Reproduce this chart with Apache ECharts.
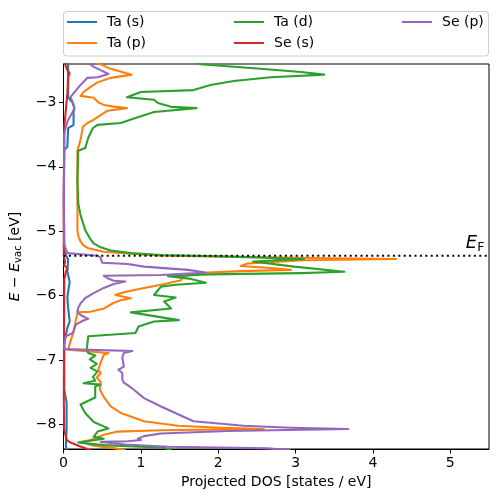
<!DOCTYPE html>
<html><head><meta charset="utf-8">
<script src="https://cdn.jsdelivr.net/npm/echarts@6/dist/echarts.min.js"></script>
<style>html,body{margin:0;padding:0;background:#fff}#c{width:498px;height:502px}</style>
</head><body><div id="c"></div>
<script>
const seriesNames = ['Ta (s)', 'Ta (p)', 'Ta (d)', 'Se (s)', 'Se (p)'];
const colors = ['#1f77b4', '#ff7f0e', '#2ca02c', '#d62728', '#9467bd'];
const xTicks = [0, 1, 2, 3, 4, 5];
const yTicks = [-8, -7, -6, -5, -4, -3];
const X_MIN = 0, X_MAX = 5.5;
const E_MIN = -8.38, E_MAX = -2.405;
const E_FERMI = -5.38;

// [DOS, E] pairs
const taS = [[0.06,-2.38],[0.06,-2.55],[0.06,-2.92],[0.12,-3.01],[0.14,-3.09],[0.13,-3.15],[0.13,-3.35],[0.06,-3.40],[0.05,-3.69],[0.01,-3.74],[0.004,-4.51],[0.01,-5.29],[0.03,-5.37],[0.06,-5.44],[0.05,-5.63],[0.08,-5.79],[0.06,-5.94],[0.05,-6.03],[0.06,-6.19],[0.08,-6.40],[0.05,-6.50],[0.03,-6.61],[0.01,-6.71],[0.01,-7.46],[0.04,-7.66],[0.04,-8.08],[0.03,-8.32],[0.04,-8.40]];

const taP = [[0.42,-2.38],[0.44,-2.41],[0.61,-2.48],[0.88,-2.57],[0.61,-2.62],[0.44,-2.69],[0.35,-2.76],[0.26,-2.84],[0.22,-2.90],[0.39,-2.93],[0.45,-3.00],[0.52,-3.04],[0.67,-3.07],[0.82,-3.09],[0.57,-3.13],[0.48,-3.20],[0.39,-3.27],[0.31,-3.32],[0.25,-3.38],[0.22,-3.58],[0.18,-3.75],[0.18,-4.51],[0.18,-4.98],[0.19,-5.07],[0.22,-5.16],[0.26,-5.22],[0.31,-5.26],[0.52,-5.32],[0.87,-5.35],[1.26,-5.38],[2.42,-5.40],[3.46,-5.42],[4.30,-5.43],[3.11,-5.45],[2.38,-5.50],[2.29,-5.54],[2.68,-5.57],[2.94,-5.60],[2.29,-5.62],[1.87,-5.64],[1.55,-5.70],[1.52,-5.76],[1.26,-5.83],[0.96,-5.90],[0.74,-5.96],[0.67,-5.99],[0.87,-6.04],[0.74,-6.07],[0.65,-6.11],[0.52,-6.20],[0.35,-6.25],[0.18,-6.26],[0.16,-6.38],[0.13,-6.56],[0.09,-6.71],[0.06,-6.84],[0.58,-6.89],[0.52,-6.92],[0.48,-7.04],[0.45,-7.15],[0.48,-7.20],[0.43,-7.27],[0.48,-7.34],[0.47,-7.46],[0.52,-7.57],[0.61,-7.72],[0.74,-7.82],[1.04,-7.95],[1.48,-8.02],[2.03,-8.05],[2.59,-8.07],[1.26,-8.09],[0.70,-8.11],[0.52,-8.16],[0.35,-8.24],[0.22,-8.27],[0.39,-8.33],[0.67,-8.37],[0.80,-8.40]];

const taD = [[1.72,-2.38],[1.77,-2.41],[2.55,-2.48],[3.07,-2.53],[3.37,-2.57],[2.68,-2.61],[2.20,-2.67],[1.90,-2.73],[1.68,-2.81],[1.00,-2.84],[0.82,-2.92],[1.17,-2.96],[1.22,-3.01],[1.39,-3.07],[1.72,-3.09],[1.17,-3.15],[0.96,-3.23],[0.74,-3.32],[0.44,-3.35],[0.38,-3.40],[0.32,-3.55],[0.28,-3.71],[0.19,-3.75],[0.18,-4.20],[0.19,-4.56],[0.22,-4.75],[0.28,-4.98],[0.34,-5.11],[0.39,-5.19],[0.48,-5.25],[0.61,-5.30],[0.87,-5.34],[1.26,-5.37],[2.03,-5.39],[3.11,-5.43],[2.45,-5.47],[2.98,-5.55],[3.63,-5.63],[3.07,-5.65],[1.87,-5.67],[1.35,-5.70],[1.65,-5.74],[1.84,-5.80],[1.45,-5.83],[1.26,-5.86],[1.17,-5.99],[1.45,-6.03],[1.30,-6.09],[1.39,-6.20],[0.87,-6.26],[1.13,-6.31],[1.49,-6.38],[1.17,-6.40],[0.97,-6.48],[0.93,-6.58],[0.32,-6.63],[0.30,-6.84],[0.32,-6.89],[0.41,-6.93],[0.34,-6.99],[0.43,-7.06],[0.35,-7.12],[0.44,-7.18],[0.38,-7.26],[0.41,-7.32],[0.26,-7.36],[0.48,-7.38],[0.41,-7.41],[0.41,-7.58],[0.22,-7.69],[0.28,-7.82],[0.39,-7.96],[0.58,-8.06],[0.44,-8.11],[0.39,-8.19],[0.52,-8.22],[0.19,-8.28],[0.52,-8.32],[1.30,-8.36],[1.39,-8.40]];

const seS = [[0.01,-2.38],[0.05,-2.50],[0.08,-2.55],[0.06,-2.61],[0.05,-2.86],[0.03,-3.12],[0.01,-3.38],[0.003,-4.51],[0.004,-5.37],[0.02,-5.48],[0.01,-5.53],[0.05,-5.58],[0.03,-5.63],[0.01,-5.75],[0.004,-7.62],[0.01,-8.08],[0.04,-8.24],[0.09,-8.28],[0.22,-8.34],[0.35,-8.40]];

const seP = [[0.32,-2.38],[0.34,-2.41],[0.39,-2.45],[0.48,-2.50],[0.58,-2.56],[0.44,-2.61],[0.31,-2.62],[0.22,-2.73],[0.13,-2.86],[0.09,-2.92],[0.12,-3.00],[0.14,-3.09],[0.12,-3.15],[0.06,-3.27],[0.03,-3.38],[0.01,-3.48],[0.004,-4.51],[0.01,-5.21],[0.05,-5.34],[0.44,-5.38],[0.48,-5.41],[0.50,-5.49],[0.83,-5.51],[1.04,-5.55],[1.61,-5.60],[1.84,-5.64],[1.26,-5.68],[0.52,-5.69],[0.57,-5.73],[0.65,-5.77],[0.80,-5.78],[0.65,-5.82],[0.52,-5.88],[0.39,-5.96],[0.28,-6.04],[0.22,-6.12],[0.19,-6.19],[0.18,-6.25],[0.22,-6.30],[0.32,-6.36],[0.25,-6.39],[0.16,-6.45],[0.12,-6.58],[0.03,-6.63],[0.01,-6.76],[0.01,-6.83],[0.89,-6.86],[0.78,-6.89],[0.76,-6.96],[0.78,-7.10],[0.71,-7.15],[0.76,-7.20],[0.76,-7.30],[0.78,-7.35],[0.83,-7.39],[0.91,-7.46],[1.04,-7.59],[1.26,-7.72],[1.68,-7.95],[2.33,-8.02],[2.94,-8.05],[3.68,-8.07],[2.12,-8.10],[1.26,-8.14],[1.04,-8.18],[0.96,-8.22],[1.00,-8.24],[0.83,-8.26],[0.48,-8.27],[0.80,-8.31],[1.35,-8.345],[2.64,-8.37],[2.94,-8.40]];

const curves = [taS, taP, taD, seS, seP];
const FONT = 'DejaVu Sans';
const LW = 2.08;
const minus = v => (v < 0 ? '\u2212' : '') + Math.abs(v);

const chart = echarts.init(document.getElementById('c'), null, {renderer: 'canvas'});

const legendBase = {
  orient: 'vertical', top: 15, itemGap: 7, padding: 0,
  icon: 'rect', itemWidth: 30, itemHeight: 2,
  textStyle: {fontSize: 14, color: '#000', fontFamily: FONT, padding: [0, 0, 0, 5]},
  selectedMode: false
};

const series = curves.map((d, i) => ({
  name: seriesNames[i], type: 'line', data: d,
  symbol: 'none', showSymbol: false, clip: true,
  lineStyle: {color: colors[i], width: LW, join: 'round'}, itemStyle: {color: colors[i]},
  z: 2 + i
}));

series.push({
  name: 'EF', type: 'line', data: [[X_MIN, E_FERMI], [X_MAX, E_FERMI]],
  symbol: 'none', z: 10,
  lineStyle: {color: '#000', width: LW, type: [2, 3.4]},
  markPoint: {
    symbol: 'circle', symbolSize: 0,
    data: [{coord: [5.44, E_FERMI]}],
    label: {
      show: true, position: [0, 0], align: 'right', verticalAlign: 'bottom',
      offset: [0, -1],
      formatter: '{i|E}{s|F}',
      rich: {
        i: {fontSize: 18, fontStyle: 'italic', fontFamily: FONT, color: '#000'},
        s: {fontSize: 12.5, fontFamily: FONT, color: '#000', padding: [9, 0, 0, 0]}
      }
    }
  }
});

chart.setOption({
  animation: false,
  backgroundColor: '#fff',
  textStyle: {fontFamily: FONT},
  graphic: [{
    type: 'rect', z: 0,
    shape: {x: 63.5, y: 11.5, width: 425, height: 44.5, r: 3},
    style: {fill: 'rgba(255,255,255,0.8)', stroke: '#cccccc', lineWidth: 1}
  }],
  legend: [
    Object.assign({}, legendBase, {left: 67, data: ['Ta (s)', 'Ta (p)']}),
    Object.assign({}, legendBase, {left: 234, data: ['Ta (d)', 'Se (s)']}),
    Object.assign({}, legendBase, {left: 402, data: ['Se (p)']})
  ],
  grid: {left: 63, right: 9, top: 64, bottom: 53, show: true, borderColor: '#000', borderWidth: 1, backgroundColor: 'transparent'},
  xAxis: {
    type: 'value', min: X_MIN, max: X_MAX,
    name: 'Projected DOS [states / eV]', nameLocation: 'middle', nameGap: 26,
    nameTextStyle: {fontSize: 14, color: '#000', fontFamily: FONT},
    axisLine: {show: true, lineStyle: {color: '#000', width: 1}},
    axisTick: {show: true, length: 4.5, lineStyle: {color: '#000', width: 1}, customValues: xTicks},
    axisLabel: {fontSize: 14, color: '#000', fontFamily: FONT, margin: 7, customValues: xTicks, formatter: v => minus(v)},
    splitLine: {show: false}
  },
  yAxis: {
    type: 'value', min: E_MIN, max: E_MAX,
    name: '{i|E} \u2212 {i|E}{s|vac} [eV]', nameLocation: 'middle', nameGap: 40,
    nameTextStyle: {
      fontSize: 14, color: '#000', fontFamily: FONT,
      rich: {
        i: {fontSize: 14, fontStyle: 'italic', fontFamily: FONT, color: '#000'},
        s: {fontSize: 10, fontFamily: FONT, color: '#000', padding: [7, 0, 0, 0]}
      }
    },
    axisLine: {show: true, lineStyle: {color: '#000', width: 1}},
    axisTick: {show: true, length: 4.5, lineStyle: {color: '#000', width: 1}, customValues: yTicks},
    axisLabel: {fontSize: 14, color: '#000', fontFamily: FONT, margin: 7, customValues: yTicks, formatter: v => minus(v)},
    splitLine: {show: false}
  },
  series: series
});
</script></body></html>
